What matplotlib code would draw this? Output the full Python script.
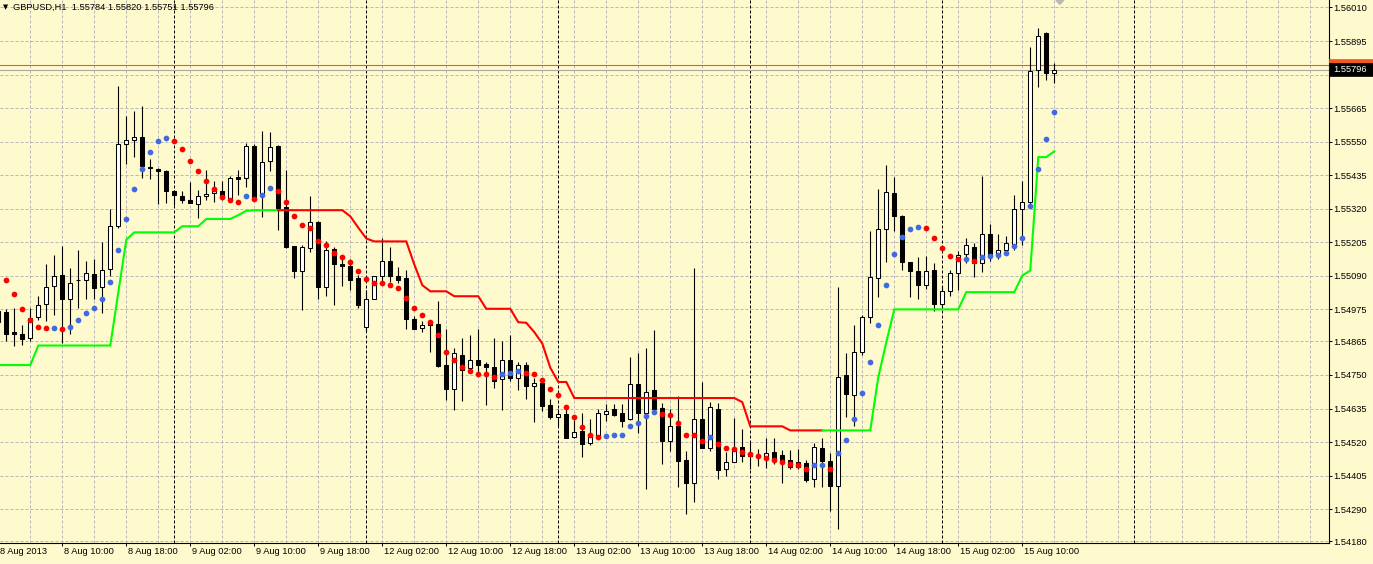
import numpy as np
import matplotlib.pyplot as plt
import matplotlib.transforms as mtransforms
from matplotlib.patches import Rectangle

plt.rcParams['font.family'] = ['Liberation Sans', 'DejaVu Sans']

# GBPUSD H1, bar 0 = 8 Aug 2013 02:00
opens = [1.54971, 1.54967, 1.54896, 1.54889, 1.54878, 1.54950, 1.54992, 1.55054, 1.55094, 1.55011,
         1.55074, 1.55074, 1.55097, 1.55052, 1.55114, 1.55262, 1.55542, 1.55556, 1.55566, 1.55462,
         1.55457, 1.55450, 1.55382, 1.55365, 1.55351, 1.55336, 1.55362, 1.55374, 1.55382, 1.55354,
         1.55429, 1.55425, 1.55536, 1.55362, 1.55482, 1.55536, 1.55325, 1.55191, 1.55106, 1.55184,
         1.55276, 1.55051, 1.55182, 1.55132, 1.55125, 1.55081, 1.54915, 1.55012, 1.55091, 1.55142,
         1.55091, 1.55083, 1.54943, 1.54912, 1.54927, 1.54926, 1.54783, 1.54703, 1.54820, 1.54775,
         1.54803, 1.54786, 1.54778, 1.54735, 1.54803, 1.54741, 1.54785, 1.54713, 1.54721, 1.54646,
         1.54607, 1.54615, 1.54539, 1.54557, 1.54518, 1.54539, 1.54617, 1.54632, 1.54618, 1.54598,
         1.54720, 1.54621, 1.54697, 1.54636, 1.54524, 1.54574, 1.54457, 1.54381, 1.54600, 1.54501,
         1.54635, 1.54429, 1.54453, 1.54504, 1.54484, 1.54476, 1.54467, 1.54486, 1.54475, 1.54459,
         1.54450, 1.54447, 1.54392, 1.54501, 1.54454, 1.54369, 1.54749, 1.54681, 1.54830, 1.54950,
         1.55083, 1.55251, 1.55374, 1.55296, 1.55136, 1.55108, 1.55058, 1.55111, 1.54995, 1.55037,
         1.55100, 1.55165, 1.55189, 1.55134, 1.55234, 1.55159, 1.55180, 1.55200, 1.55319, 1.55343,
         1.55794, 1.55922, 1.55784]
highs = [1.54988, 1.54975, 1.54981, 1.54923, 1.54980, 1.55020, 1.55132, 1.55163, 1.55191, 1.55117,
         1.55180, 1.55142, 1.55146, 1.55205, 1.55320, 1.55741, 1.55639, 1.55656, 1.55673, 1.55491,
         1.55461, 1.55454, 1.55385, 1.55380, 1.55410, 1.55385, 1.55454, 1.55416, 1.55416, 1.55431,
         1.55454, 1.55545, 1.55542, 1.55588, 1.55583, 1.55538, 1.55454, 1.55192, 1.55194, 1.55365,
         1.55277, 1.55208, 1.55188, 1.55146, 1.55146, 1.55094, 1.55043, 1.55091, 1.55220, 1.55189,
         1.55121, 1.55109, 1.54951, 1.54934, 1.54934, 1.55003, 1.54906, 1.54843, 1.54878, 1.54886,
         1.54906, 1.54794, 1.54878, 1.54866, 1.54887, 1.54794, 1.54794, 1.54739, 1.54737, 1.54666,
         1.54632, 1.54632, 1.54596, 1.54618, 1.54598, 1.54632, 1.54649, 1.54649, 1.54649, 1.54813,
         1.54824, 1.54843, 1.54903, 1.54655, 1.54632, 1.54678, 1.54489, 1.55117, 1.54727, 1.54657,
         1.54655, 1.54485, 1.54601, 1.54564, 1.54520, 1.54495, 1.54535, 1.54535, 1.54492, 1.54492,
         1.54495, 1.54459, 1.54516, 1.54535, 1.54481, 1.55052, 1.54826, 1.54920, 1.54956, 1.55243,
         1.55388, 1.55469, 1.55429, 1.55299, 1.55138, 1.55154, 1.55157, 1.55134, 1.55054, 1.55109,
         1.55174, 1.55220, 1.55203, 1.55431, 1.55269, 1.55235, 1.55228, 1.55368, 1.55416, 1.55876,
         1.55939, 1.55925, 1.55820]
lows = [1.54920, 1.54865, 1.54848, 1.54852, 1.54866, 1.54940, 1.54934, 1.54957, 1.54860, 1.54889,
        1.54980, 1.55012, 1.55009, 1.54963, 1.55091, 1.55255, 1.55473, 1.55499, 1.55425, 1.55423,
        1.55336, 1.55340, 1.55332, 1.55340, 1.55338, 1.55288, 1.55349, 1.55343, 1.55351, 1.55350,
        1.55368, 1.55395, 1.55354, 1.55292, 1.55451, 1.55246, 1.55186, 1.55083, 1.54972, 1.55171,
        1.55012, 1.55020, 1.54989, 1.55054, 1.55041, 1.54980, 1.54900, 1.55009, 1.55070, 1.55070,
        1.55067, 1.54908, 1.54906, 1.54897, 1.54830, 1.54778, 1.54664, 1.54629, 1.54661, 1.54758,
        1.54746, 1.54647, 1.54704, 1.54630, 1.54729, 1.54698, 1.54666, 1.54589, 1.54626, 1.54600,
        1.54575, 1.54533, 1.54535, 1.54470, 1.54510, 1.54532, 1.54592, 1.54609, 1.54573, 1.54595,
        1.54552, 1.54358, 1.54626, 1.54444, 1.54489, 1.54366, 1.54273, 1.54316, 1.54499, 1.54489,
        1.54392, 1.54404, 1.54450, 1.54450, 1.54427, 1.54438, 1.54432, 1.54444, 1.54379, 1.54427,
        1.54427, 1.54383, 1.54367, 1.54367, 1.54284, 1.54221, 1.54607, 1.54575, 1.54820, 1.54927,
        1.55017, 1.55136, 1.55242, 1.55109, 1.55017, 1.55009, 1.55045, 1.54969, 1.54980, 1.55020,
        1.55043, 1.55134, 1.55085, 1.55104, 1.55140, 1.55146, 1.55169, 1.55180, 1.55197, 1.55331,
        1.55737, 1.55760, 1.55751]
closes = [1.54930, 1.54891, 1.54892, 1.54874, 1.54946, 1.54989, 1.55052, 1.55089, 1.55011, 1.55066,
          1.55075, 1.55100, 1.55049, 1.55110, 1.55262, 1.55542, 1.55557, 1.55566, 1.55465, 1.55461,
          1.55448, 1.55380, 1.55366, 1.55351, 1.55340, 1.55362, 1.55371, 1.55383, 1.55362, 1.55425,
          1.55423, 1.55536, 1.55360, 1.55481, 1.55532, 1.55321, 1.55188, 1.55105, 1.55190, 1.55275,
          1.55051, 1.55177, 1.55130, 1.55124, 1.55077, 1.54989, 1.55009, 1.55089, 1.55142, 1.55089,
          1.55077, 1.54943, 1.54908, 1.54920, 1.54921, 1.54780, 1.54703, 1.54824, 1.54766, 1.54801,
          1.54784, 1.54778, 1.54729, 1.54801, 1.54738, 1.54785, 1.54712, 1.54724, 1.54645, 1.54607,
          1.54615, 1.54534, 1.54556, 1.54515, 1.54543, 1.54618, 1.54628, 1.54613, 1.54592, 1.54720,
          1.54621, 1.54693, 1.54632, 1.54524, 1.54574, 1.54455, 1.54381, 1.54600, 1.54500, 1.54641,
          1.54424, 1.54453, 1.54501, 1.54472, 1.54472, 1.54468, 1.54481, 1.54463, 1.54450, 1.54436,
          1.54436, 1.54390, 1.54504, 1.54454, 1.54369, 1.54744, 1.54686, 1.54830, 1.54950, 1.55086,
          1.55251, 1.55378, 1.55294, 1.55136, 1.55106, 1.55058, 1.55106, 1.54995, 1.55037, 1.55100,
          1.55160, 1.55195, 1.55134, 1.55234, 1.55159, 1.55178, 1.55203, 1.55319, 1.55343, 1.55793,
          1.55913, 1.55787, 1.55796]

# dotted indicator (r = falling, b = rising)
dots = [np.nan, 1.55077, 1.55026, 1.54975, 1.54940, 1.54915, 1.54910, 1.54912, 1.54906, 1.54915,
        1.54937, 1.54961, 1.54980, 1.55011, 1.55069, 1.55180, 1.55285, 1.55389, 1.55456, 1.55516,
        1.55553, 1.55563, 1.55553, 1.55525, 1.55484, 1.55450, 1.55416, 1.55388, 1.55360, 1.55351,
        1.55344, 1.55365, 1.55355, 1.55368, 1.55391, 1.55382, 1.55343, 1.55296, 1.55265, 1.55254,
        1.55211, 1.55194, 1.55169, 1.55156, 1.55139, 1.55108, 1.55080, 1.55066, 1.55065, 1.55057,
        1.55049, 1.55015, 1.54980, 1.54954, 1.54932, 1.54886, 1.54830, 1.54802, 1.54776, 1.54765,
        1.54755, 1.54754, 1.54744, 1.54755, 1.54758, 1.54765, 1.54758, 1.54755, 1.54734, 1.54703,
        1.54680, 1.54641, 1.54607, 1.54573, 1.54545, 1.54539, 1.54540, 1.54543, 1.54545, 1.54576,
        1.54587, 1.54611, 1.54624, 1.54615, 1.54612, 1.54587, 1.54545, 1.54544, 1.54525, 1.54539,
        1.54515, 1.54498, 1.54495, 1.54487, 1.54480, 1.54472, 1.54467, 1.54459, 1.54453, 1.54446,
        1.54443, 1.54429, 1.54440, 1.54443, 1.54429, 1.54484, 1.54528, 1.54600, 1.54689, 1.54795,
        1.54922, 1.55059, 1.55165, 1.55223, 1.55251, 1.55258, 1.55254, 1.55220, 1.55186, 1.55157,
        1.55148, 1.55149, 1.55141, 1.55155, 1.55159, 1.55160, 1.55169, 1.55191, 1.55220, 1.55328,
        1.55456, 1.55559, 1.55652]
dot_state = ("-rrrrrrbrb" "bbbbbbbbbb" "bbrrrrrrrr" "rbrbbrrrrr" "rrrrrrrrrr"
             "rrrrrrrrrr" "rrrbbbrrrr" "rrrrrrbbbb" "bbbrrrrrrb" "rrrrrrrrrr"
             "rrbbrbbbbb" "bbbbbbrrrr" "rbrbbbbbbb" "bbb")

# stepped trend line (g = up, r = down)
trend = [1.54784, 1.54784, 1.54784, 1.54784, 1.54784, 1.54851, 1.54851, 1.54851, 1.54851, 1.54851,
         1.54851, 1.54851, 1.54851, 1.54851, 1.54851, 1.55033, 1.55214, 1.55239, 1.55239, 1.55239,
         1.55239, 1.55239, 1.55239, 1.55260, 1.55260, 1.55260, 1.55285, 1.55285, 1.55285, 1.55285,
         1.55298, 1.55313, 1.55315, 1.55315, 1.55315, 1.55315, 1.55315, 1.55315, 1.55315, 1.55315,
         1.55315, 1.55315, 1.55315, 1.55315, 1.55294, 1.55255, 1.55218, 1.55208, 1.55208, 1.55208,
         1.55208, 1.55208, 1.55129, 1.55058, 1.55037, 1.55037, 1.55037, 1.55020, 1.55020, 1.55020,
         1.55020, 1.54977, 1.54977, 1.54977, 1.54977, 1.54931, 1.54929, 1.54897, 1.54858, 1.54775,
         1.54726, 1.54726, 1.54671, 1.54671, 1.54671, 1.54671, 1.54671, 1.54671, 1.54671, 1.54671,
         1.54671, 1.54671, 1.54671, 1.54671, 1.54671, 1.54671, 1.54671, 1.54671, 1.54671, 1.54671,
         1.54671, 1.54671, 1.54671, 1.54657, 1.54574, 1.54574, 1.54574, 1.54574, 1.54574, 1.54560,
         1.54560, 1.54560, 1.54560, 1.54560, 1.54560, 1.54560, 1.54560, 1.54560, 1.54560, 1.54560,
         1.54742, 1.54862, 1.54975, 1.54975, 1.54975, 1.54975, 1.54975, 1.54975, 1.54975, 1.54975,
         1.54975, 1.55034, 1.55034, 1.55034, 1.55034, 1.55034, 1.55034, 1.55034, 1.55091, 1.55108,
         1.55497, 1.55497, 1.55517]
trend_state = ("gggggggggg" "gggggggggg" "gggggggggg" "ggggggrrrr" "rrrrrrrrrr"
               "rrrrrrrrrr" "rrrrrrrrrr" "rrrrrrrrrr" "rrrrrrrrrr" "rrrrrrrrrr"
               "rrrrgggggg" "gggggggggg" "gggggggggg" "ggg")

ask = 1.55812

# the 1.55780 level sits under the price boxes, so its label stays blank
price_levels = [1.56010, 1.55895, 1.55780, 1.55665, 1.55550, 1.55435, 1.55320, 1.55205, 1.55090,
                1.54975, 1.54865, 1.54750, 1.54635, 1.54520, 1.54405, 1.54290, 1.54180]
price_labels = ['1.56010', '1.55895', '', '1.55665', '1.55550', '1.55435', '1.55320',
                '1.55205', '1.55090', '1.54975', '1.54865', '1.54750', '1.54635', '1.54520',
                '1.54405', '1.54290', '1.54180']
time_bars = [0, 8, 16, 24, 32, 40, 48, 56, 64, 72, 80, 88, 96, 104, 112, 120, 128]
time_labels = ['8 Aug 2013', '8 Aug 10:00', '8 Aug 18:00', '9 Aug 02:00', '9 Aug 10:00',
               '9 Aug 18:00', '12 Aug 02:00', '12 Aug 10:00', '12 Aug 18:00', '13 Aug 02:00',
               '13 Aug 10:00', '13 Aug 18:00', '14 Aug 02:00', '14 Aug 10:00', '14 Aug 18:00',
               '15 Aug 02:00', '15 Aug 10:00']
day_breaks = [22, 46, 70, 94, 118, 142]

bg = '#FFFACD'
grid_col = '#B8B8B8'
fs = 6.7

W, H = 1373, 564
fig = plt.figure(figsize=(W / 100, H / 100), dpi=100, facecolor=bg)
ax = fig.add_axes([0, 21.3 / H, 1328.5 / W, 542.7 / H])
ax.set_facecolor(bg)
ax.set_xlim(0.2125, 166.28)
ax.set_ylim(1.54175, 1.560357)

# grid
for v in price_levels:
    ax.axhline(v, color=grid_col, lw=0.72, ls=(0, (3, 2)), zorder=0.5)
for k in range(4, 167, 4):
    ax.axvline(k, color=grid_col, lw=0.72, ls=(0, (3, 2)), zorder=0.5)
for k in day_breaks:
    ax.axvline(k, color='black', lw=0.72, ls=(0, (3, 2)), zorder=0.6)

# bid / ask lines
ax.axhline(closes[-1], color='#A8A8A0', lw=0.8, zorder=1)
ax.axhline(ask, color='#EE5A1E', lw=0.8, zorder=1)

# candles
n = len(opens)
xs = np.arange(n)
ax.vlines(xs, lows, highs, color='black', lw=0.8, zorder=2)
for i in range(n):
    o, c = opens[i], closes[i]
    fc = 'white' if c >= o else 'black'
    ax.add_patch(Rectangle((i - 0.26, min(o, c)), 0.52, abs(c - o), facecolor=fc,
                           edgecolor='black', lw=0.75, zorder=2.5))

# trend line, drawn in runs of one colour
tcol = {'g': '#00FF00', 'r': '#FF0000'}
start = 0
for i in range(1, n + 1):
    if i == n or trend_state[i] != trend_state[start]:
        a = max(start - 1, 0)
        ax.plot(xs[a:i], trend[a:i], color=tcol[trend_state[start]], lw=1.5,
                solid_joinstyle='miter', zorder=3)
        start = i

# dots
dcol = {'r': '#FF0000', 'b': '#4169E1'}
for st in 'rb':
    idx = [i for i in range(n) if dot_state[i] == st]
    ax.scatter(idx, [dots[i] for i in idx], s=17, color=dcol[st], linewidths=0, zorder=4)

# chart shift marker at the top
blend = mtransforms.blended_transform_factory(ax.transData, ax.transAxes)
ax.fill([132.2, 133.2, 132.7], [1.0, 1.0, 0.992], color='#B8B8B8', transform=blend,
        clip_on=False, zorder=5)

# axes frame
for s in ['left', 'top']:
    ax.spines[s].set_visible(False)
for s in ['right', 'bottom']:
    ax.spines[s].set_linewidth(0.8)
    ax.spines[s].set_color('black')

ax.yaxis.tick_right()
ax.set_yticks(price_levels)
ax.set_yticklabels(price_labels)
ax.tick_params(axis='y', length=2.2, width=0.72, pad=1.5, labelsize=fs, colors='black')
ax.set_xticks(time_bars[1:])
ax.set_xticklabels([])
ax.tick_params(axis='x', length=2.5, width=0.72)
for k, lab in zip(time_bars, time_labels):
    ax.annotate(lab, xy=(k, 0), xycoords=blend, xytext=(1.0, -3.4),
                textcoords='offset points', ha='left', va='top', fontsize=fs,
                annotation_clip=False)

# price boxes on the right axis (ask box mostly hidden behind the bid box)
to_fig = ax.transData + fig.transFigure.inverted()
bw, bh = 45 / W, 13 / H
x0 = 1328.5 / W
for price, col, z in [(ask, '#EE5A1E', 5), (closes[-1], 'black', 6)]:
    yf = to_fig.transform((0, price))[1]
    fig.add_artist(Rectangle((x0, yf - bh / 2), bw, bh, transform=fig.transFigure,
                             facecolor=col, edgecolor=col, lw=0.5, zorder=z))
yb = to_fig.transform((0, closes[-1]))[1]
fig.text(x0 + 5 / W, yb, f'{closes[-1]:.5f}', color='white', fontsize=fs,
         va='center', ha='left', zorder=7)

# header
fig.text(3 / W, 1 - 7.5 / H, '\u25BC', fontsize=4.8, va='center', ha='left',
         family='DejaVu Sans')
fig.text(13 / W, 1 - 7.5 / H,
         f'GBPUSD,H1  {opens[-1]:.5f} {highs[-1]:.5f} {lows[-1]:.5f} {closes[-1]:.5f}',
         fontsize=fs, va='center', ha='left')

fig.savefig('out.png', dpi=100, facecolor=bg)
